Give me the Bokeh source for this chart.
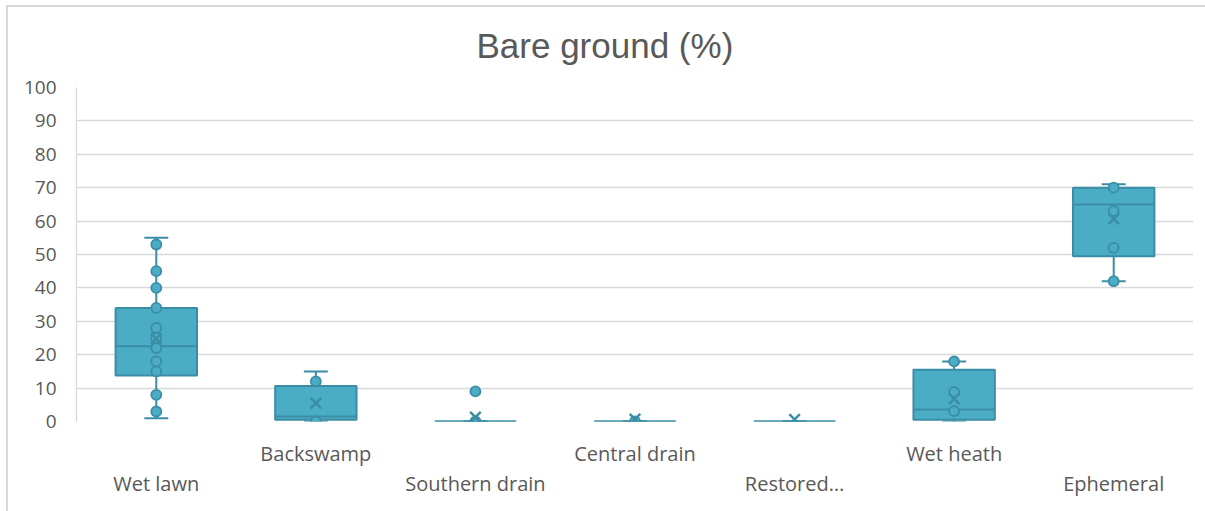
import numpy as np
from bokeh.plotting import figure
from bokeh.models import FixedTicker, Range1d, LinearAxis, InlineStyleSheet
from bokeh.embed import file_html
from bokeh.resources import INLINE

categories = ["Wet lawn", "Backswamp", "Southern drain", "Central drain",
              "Restored…", "Wet heath", "Ephemeral"]
whisker_low = [1, 0, 0, 0, 0, 0, 42]
q1 = [13.8, 0.5, 0, 0, 0, 0.5, 49.5]
median = [22.5, 1.5, 0, 0, 0, 3.6, 65]
q3 = [34, 10.6, 0, 0, 0, 15.5, 70]
whisker_high = [55, 15, 0, 0, 0, 18, 71]
means = [24.8, 5.5, 1.3, 0.7, 0.6, 6.8, 60.7]
points = [[3, 8, 15, 18, 22, 25, 28, 34, 40, 45, 53], [0, 12], [0, 9], [0], [],
          [3.1, 8.8, 18], [42, 52, 63, 70]]
y_ticks = [0, 10, 20, 30, 40, 50, 60, 70, 80, 90, 100]

FILL = "#4BACC6"
LINE = "#3A8DA4"
TEXT = "#595959"
GRID = "#D9D9D9"

n = len(categories)
xc = np.arange(n) + 0.5
box_w = 0.51
cap_w = 0.15

p = figure(width=1205, height=511, x_range=Range1d(0, n), y_range=Range1d(0, 100),
           output_backend="svg", toolbar_location=None, x_axis_location=None,
           min_border_left=76, min_border_right=12, min_border_top=87,
           min_border_bottom=90)
p.outline_line_color = None
p.background_fill_color = "white"
p.border_fill_color = "white"
p.stylesheets = [InlineStyleSheet(css=(
    ":host { position: relative; } "
    ":host::after { content: ''; position: absolute; left: 6px; top: 5px; "
    "right: 0; bottom: 0; border-left: 2px solid #D9D9D9; "
    "border-top: 2px solid #D9D9D9; pointer-events: none; z-index: 10; }"))]
p.xgrid.visible = False
p.ygrid.ticker = FixedTicker(ticks=y_ticks)
p.ygrid.grid_line_color = GRID
p.ygrid.grid_line_width = 1.3
p.yaxis.ticker = FixedTicker(ticks=y_ticks)
p.yaxis.axis_line_color = GRID
p.yaxis.axis_line_width = 1.3
p.yaxis.major_tick_line_color = None
p.yaxis.minor_tick_line_color = None
p.yaxis.major_label_standoff = 14
p.yaxis.major_label_text_font = "Open Sans"
p.yaxis.major_label_text_font_size = "19px"
p.yaxis.major_label_text_color = TEXT

p.title.text = "Bare ground (%)"
p.title.align = "left"
p.title.text_font = "Liberation Sans"
p.title.text_font_size = "35px"
p.title.text_font_style = "normal"
p.title.text_color = TEXT
p.title.text_line_height = 0.9
p.title.offset = 400
p.title.standoff = 46

# staggered category labels: two axes below
top_idx = [i for i in range(n) if i % 2 == 1]
bot_idx = [i for i in range(n) if i % 2 == 0]
for idx, standoff in ((top_idx, 12), (bot_idx, -6)):
    ax = LinearAxis(ticker=FixedTicker(ticks=[float(xc[i]) for i in idx]),
                    major_label_overrides={float(xc[i]): categories[i] for i in idx})
    ax.axis_line_color = None
    ax.major_tick_line_color = None
    ax.minor_tick_line_color = None
    ax.major_label_standoff = standoff
    ax.major_label_text_font = "Open Sans"
    ax.major_label_text_font_size = "20px"
    ax.major_label_text_color = TEXT
    p.add_layout(ax, "below")

# whiskers
p.segment(x0=xc, y0=whisker_low, x1=xc, y1=q1, line_color=LINE, line_width=2)
p.segment(x0=xc, y0=q3, x1=xc, y1=whisker_high, line_color=LINE, line_width=2)
p.segment(x0=xc - cap_w / 2, y0=whisker_low, x1=xc + cap_w / 2, y1=whisker_low,
          line_color=LINE, line_width=2)
p.segment(x0=xc - cap_w / 2, y0=whisker_high, x1=xc + cap_w / 2, y1=whisker_high,
          line_color=LINE, line_width=2)

# boxes
p.quad(left=xc - box_w / 2, right=xc + box_w / 2, bottom=q1, top=q3,
       fill_color=FILL, line_color=LINE, line_width=2)
p.segment(x0=xc - box_w / 2, y0=median, x1=xc + box_w / 2, y1=median,
          line_color=LINE, line_width=2)

# points
px, py = [], []
for i, vals in enumerate(points):
    for v in vals:
        px.append(xc[i])
        py.append(v)
p.scatter(px, py, size=10, marker="circle", fill_color=FILL, line_color=LINE,
          line_width=1.8)

# means
p.scatter(xc, means, size=15, marker="x", line_color=LINE, line_width=2.4)

open("out.html", "w").write(file_html(p, INLINE))
